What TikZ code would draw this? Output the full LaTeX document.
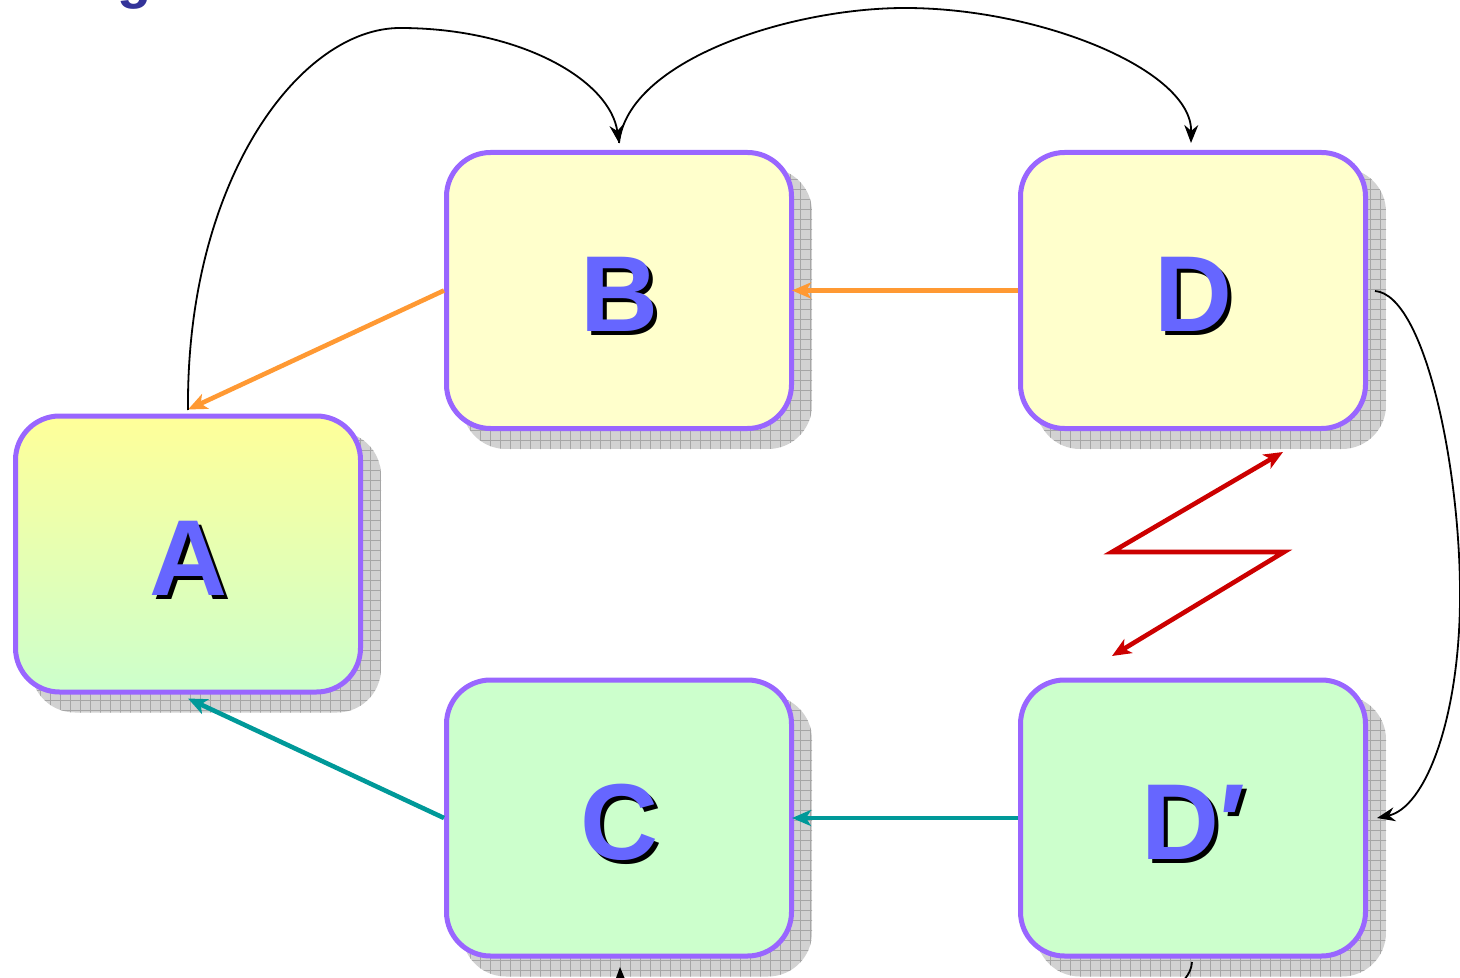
\documentclass[tikz,border=0pt]{standalone}
\usepackage{fontspec}
\setmainfont{Liberation Sans}
\usetikzlibrary{arrows.meta,backgrounds}
\definecolor{boxborder}{HTML}{9966FF}
\definecolor{ylw}{HTML}{FFFFCC}
\definecolor{grn}{HTML}{CCFFCC}
\definecolor{ylwtop}{HTML}{FFFF99}
\definecolor{lblblue}{HTML}{6666FF}
\definecolor{orng}{HTML}{FF9933}
\definecolor{teal2}{HTML}{009999}
\definecolor{redz}{HTML}{CC0000}
\definecolor{titleblue}{HTML}{333399}
\newcommand\shtext[1]{\rlap{\kern2pt\raisebox{-2pt}{\color{black}#1}}{\color{lblblue}#1}}
\newcommand\dropshadow[1]{%
  \begin{scope}
    \clip[rounded corners=22pt] ([shift={(9pt,-9pt)}]#1.south west) rectangle ([shift={(9pt,-9pt)}]#1.north east);
    \fill[gray!35] ([shift={(9pt,-9pt)}]#1.south west) rectangle ([shift={(9pt,-9pt)}]#1.north east);
    \draw[gray!70,line width=0.5pt,step=5pt] ([shift={(0pt,-20pt)}]#1.south west) grid ([shift={(20pt,0pt)}]#1.north east);
  \end{scope}}
\tikzset{
  statebox/.style={draw=boxborder,line width=2.5pt,rounded corners=22pt,
    minimum width=172.5pt,minimum height=138pt,inner sep=0pt},
  yelbox/.style={statebox,fill=ylw},
  grnbox/.style={statebox,fill=grn},
  gradbox/.style={statebox,top color=ylwtop,bottom color=grn},
  boxlabel/.style={inner sep=0pt,font=\fontsize{54}{60}\selectfont\bfseries},
  headtip/.tip={Stealth[length=9.5pt,width=8pt,inset=2.5pt]},
  orarrow/.style={draw=orng,line width=2.3pt,-headtip},
  tlarrow/.style={draw=teal2,line width=2.3pt,-headtip},
  blkarrow/.style={draw=black,line width=0.9pt,-{Stealth[length=9pt,width=7pt]}},
  redarrow/.style={draw=redz,line width=2.3pt,headtip-headtip},
}
\begin{document}
\begin{tikzpicture}[x=0.5pt,y=-0.5pt]
\useasboundingbox (0,0) rectangle (1460,978);
\clip (0,0) rectangle (1460,978);
\node[anchor=base,text=titleblue,font=\fontsize{28}{32}\selectfont\bfseries] (title) at (135,-2) {g};
\node[yelbox] (B) at (619,290.5) {};
\node[yelbox] (D) at (1193,290.5) {};
\node[gradbox] (A) at (188,554) {};
\node[grnbox] (C) at (619,818) {};
\node[grnbox] (Dp) at (1193,818) {};
\node[boxlabel] (Bl) at ([yshift=-3pt]B.center) {\shtext{B}};
\node[boxlabel] (Dl) at ([yshift=-3pt]D.center) {\shtext{D}};
\node[boxlabel] (Al) at ([yshift=-3pt]A.center) {\shtext{A}};
\node[boxlabel] (Cl) at ([yshift=-3pt]C.center) {\shtext{C}};
\node[boxlabel] (Dpl) at ([yshift=-3pt]Dp.center) {\shtext{D′}};
\begin{scope}[on background layer]
\dropshadow{B}\dropshadow{D}\dropshadow{A}\dropshadow{C}\dropshadow{Dp}
\end{scope}
% orange and teal arrows
\draw[orarrow] (D.west) -- ([xshift=-1pt]B.east);
\draw[orarrow] (B.west) -- ([yshift=2pt]A.north);
\draw[tlarrow] (Dp.west) -- ([xshift=-1pt]C.east);
\draw[tlarrow] (C.west) -- ([yshift=-2pt]A.south);
% red zigzag
\coordinate (z1) at (1283,452);
\coordinate (z2) at (1112,552);
\coordinate (z3) at (1284,552);
\coordinate (z4) at (1112,656);
\draw[redarrow] (z1) -- (z2) -- (z3) -- (z4);
% black curves
\coordinate (Atop) at (188,410);
\coordinate (Btop) at (619,143);
\coordinate (Dtop) at (1191,143);
\coordinate (Dright) at (1375,291);
\coordinate (Dpright) at (1377,818);
\coordinate (Dpbot) at (1192,962);
\coordinate (Cbot) at (620,967);
\draw[blkarrow] (Atop) .. controls (186,180) and (300,28) .. (400,28) .. controls (520,28) and (610,80) .. (Btop);
\draw[blkarrow] (Btop) .. controls (628,60) and (790,8) .. (905,8) .. controls (1040,8) and (1192,70) .. (Dtop);
\draw[blkarrow] (Dright) .. controls (1425,295) and (1461,470) .. (1460,600) .. controls (1459,720) and (1425,808) .. (Dpright);
\draw[blkarrow] (Dpbot) .. controls (1186,1060) and (622,1060) .. (Cbot);
\end{tikzpicture}
\end{document}
